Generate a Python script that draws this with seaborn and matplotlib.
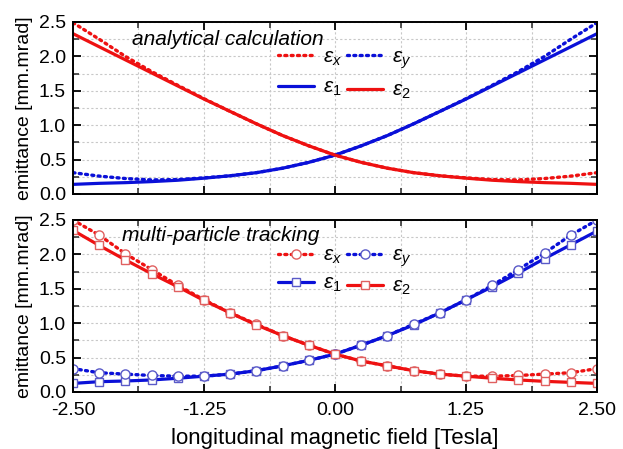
import numpy as np
import pandas as pd
import matplotlib
matplotlib.use("Agg")
import matplotlib.pyplot as plt
from matplotlib.ticker import MultipleLocator, FormatStrFormatter
import seaborn as sns

# ---------------- data ----------------
field = [-2.5, -2.25, -2.0, -1.75, -1.5, -1.25, -1.0, -0.75, -0.5, -0.25, 0.0,
         0.25, 0.5, 0.75, 1.0, 1.25, 1.5, 1.75, 2.0, 2.25, 2.5]

# analytical calculation
ana_e1 = [0.14, 0.155, 0.165, 0.18, 0.20, 0.23, 0.265, 0.31, 0.375, 0.46, 0.565,
          0.70, 0.85, 1.02, 1.20, 1.38, 1.57, 1.76, 1.95, 2.14, 2.33]
ana_e2 = [2.33, 2.14, 1.95, 1.76, 1.57, 1.38, 1.20, 1.02, 0.85, 0.70, 0.565,
          0.46, 0.375, 0.31, 0.265, 0.23, 0.20, 0.18, 0.165, 0.155, 0.14]
ana_ex = [2.49, 2.25, 2.00, 1.78, 1.58, 1.385, 1.20, 1.02, 0.85, 0.70, 0.565,
          0.46, 0.375, 0.31, 0.265, 0.235, 0.21, 0.205, 0.225, 0.26, 0.31]
ana_ey = [0.31, 0.26, 0.225, 0.205, 0.21, 0.235, 0.265, 0.31, 0.375, 0.46, 0.565,
          0.70, 0.85, 1.02, 1.20, 1.385, 1.58, 1.78, 2.00, 2.25, 2.49]

# multi-particle tracking
trk_ex = [2.50, 2.28, 2.01, 1.78, 1.55, 1.34, 1.15, 0.985, 0.82, 0.68, 0.55,
          0.45, 0.38, 0.31, 0.26, 0.23, 0.23, 0.24, 0.26, 0.28, 0.34]
trk_ey = [0.34, 0.28, 0.26, 0.24, 0.23, 0.23, 0.26, 0.31, 0.38, 0.46, 0.55,
          0.68, 0.82, 0.985, 1.15, 1.34, 1.55, 1.78, 2.02, 2.28, 2.50]
trk_e1 = [0.125, 0.15, 0.16, 0.175, 0.20, 0.23, 0.26, 0.31, 0.38, 0.46, 0.55,
          0.68, 0.82, 0.975, 1.15, 1.34, 1.53, 1.73, 1.94, 2.14, 2.34]
trk_e2 = [2.35, 2.13, 1.92, 1.72, 1.53, 1.33, 1.15, 0.975, 0.82, 0.68, 0.55,
          0.45, 0.38, 0.31, 0.26, 0.23, 0.20, 0.175, 0.155, 0.14, 0.125]

xticks = [-2.5, -1.25, 0.0, 1.25, 2.5]
panel_titles = ["analytical calculation", "multi-particle tracking"]
ylabel = "emittance [mm.mrad]"
xlabel = "longitudinal magnetic field [Tesla]"

# ---------------- style ----------------
sns.set_style("white")
plt.rcParams["font.family"] = ["Liberation Sans", "DejaVu Sans"]
plt.rcParams["mathtext.fontset"] = "custom"
plt.rcParams["mathtext.it"] = "Liberation Sans:italic"
plt.rcParams["mathtext.rm"] = "Liberation Sans"
plt.rcParams["text.color"] = "black"
plt.rcParams["axes.labelcolor"] = "black"

RED = "#ee1111"
BLUE = "#0a10d8"
RED_M = "#e06060"
BLUE_M = "#5a5ac8"

fig = plt.figure(figsize=(6.23, 4.49), dpi=100)
W, H = 623, 449
L, R = 73, 597
ax1 = fig.add_axes([L / W, 1 - 194 / H, (R - L) / W, (194 - 22) / H])
ax2 = fig.add_axes([L / W, 1 - 392 / H, (R - L) / W, (392 - 220) / H])

lw = 2.3
dot = (0, (0.6, 1.3))
# top panel
sns.lineplot(x=field, y=ana_ex, ax=ax1, color=RED, lw=2.4, linestyle=dot,
             label=r"$\varepsilon_x$", dash_capstyle="round")
sns.lineplot(x=field, y=ana_e1, ax=ax1, color=BLUE, lw=lw, label=r"$\varepsilon_1$")
sns.lineplot(x=field, y=ana_ey, ax=ax1, color=BLUE, lw=2.4, linestyle=dot,
             label=r"$\varepsilon_y$", dash_capstyle="round")
sns.lineplot(x=field, y=ana_e2, ax=ax1, color=RED, lw=lw, label=r"$\varepsilon_2$")

# bottom panel
ms = 6.6
sns.lineplot(x=field, y=trk_ex, ax=ax2, color=RED, lw=2.4, linestyle=dot,
             dash_capstyle="round", marker="o", markersize=ms, markerfacecolor="white",
             markeredgecolor=RED_M, markeredgewidth=1.0, label=r"$\varepsilon_x$")
sns.lineplot(x=field, y=trk_e1, ax=ax2, color=BLUE, lw=lw, marker="s", markersize=ms - 0.8,
             markerfacecolor="white", markeredgecolor=BLUE_M, markeredgewidth=1.0,
             label=r"$\varepsilon_1$")
sns.lineplot(x=field, y=trk_ey, ax=ax2, color=BLUE, lw=2.4, linestyle=dot,
             dash_capstyle="round", marker="o", markersize=ms, markerfacecolor="white",
             markeredgecolor=BLUE_M, markeredgewidth=1.0, label=r"$\varepsilon_y$")
sns.lineplot(x=field, y=trk_e2, ax=ax2, color=RED, lw=lw, marker="s", markersize=ms - 0.8,
             markerfacecolor="white", markeredgecolor=RED_M, markeredgewidth=1.0,
             label=r"$\varepsilon_2$")

title_pos = [(0.113, 0.90), (0.094, 0.907)]
for ax, title, tp in zip([ax1, ax2], panel_titles, title_pos):
    ax.set_xlim(-2.5, 2.5)
    ax.set_ylim(0, 2.5)
    ax.xaxis.set_major_locator(MultipleLocator(1.25))
    ax.xaxis.set_minor_locator(MultipleLocator(0.625))
    ax.yaxis.set_major_locator(MultipleLocator(0.5))
    ax.yaxis.set_minor_locator(MultipleLocator(0.25))
    ax.yaxis.set_major_formatter(FormatStrFormatter("%.1f"))
    ax.xaxis.set_major_formatter(FormatStrFormatter("%.2f"))
    ax.grid(True, which="both", color="#c8c8c8", lw=0.8, ls=(0, (2, 2)))
    ax.set_axisbelow(True)
    ax.tick_params(which="major", direction="in", length=6, width=1.3,
                   top=True, right=True, bottom=True, left=True,
                   labelsize=14, pad=5, colors="black")
    ax.tick_params(which="minor", direction="in", length=4, width=1.1,
                   top=True, right=True, bottom=True, left=True)
    for sp in ax.spines.values():
        sp.set_visible(True)
        sp.set_color("black")
        sp.set_linewidth(1.4)
    ax.set_ylabel(ylabel, fontsize=14, labelpad=4)
    ax.set_xlabel("")
    ax.text(tp[0], tp[1], title, transform=ax.transAxes, fontsize=15,
            style="italic", ha="left", va="center")

ax1.tick_params(labelbottom=False)
ax1.set_xticks(xticks)
ax2.set_xticks(xticks)
ax2.tick_params(axis="x", which="major", pad=7)
ax2.set_xlabel(xlabel, fontsize=16, labelpad=7)

leg1 = ax1.legend(ncol=2, loc="center", bbox_to_anchor=(0.518, 0.695), frameon=False,
                  fontsize=15, handlelength=1.75, handletextpad=0.4, columnspacing=0.25,
                  labelspacing=0.5)
leg2 = ax2.legend(ncol=2, loc="center", bbox_to_anchor=(0.518, 0.70), frameon=False,
                  fontsize=15, handlelength=1.75, handletextpad=0.4, columnspacing=0.25,
                  labelspacing=0.38, numpoints=1)

fig.savefig("out.png", dpi=100)
